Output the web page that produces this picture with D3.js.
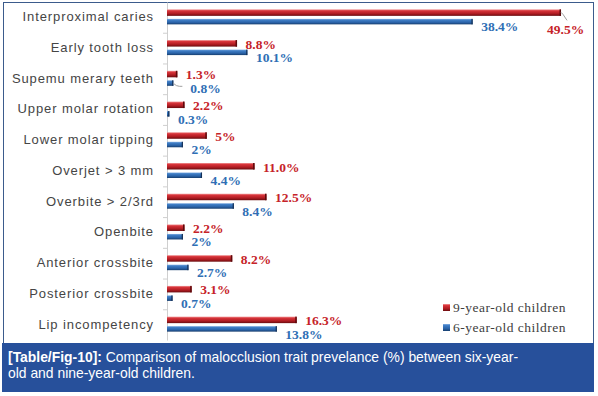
<!DOCTYPE html>
<html>
<head>
<meta charset="utf-8">
<script src="https://cdn.jsdelivr.net/npm/d3@7"></script>
<style>
  body { margin: 0; background: #fff; }
  .cat text { font-family: "Liberation Sans", Arial, sans-serif; font-size: 13px; fill: #454545; letter-spacing: 0.9px; }
  .val { font-family: "Liberation Serif", "Times New Roman", serif; font-size: 13.5px; font-weight: bold; }
  .leg { font-family: "Liberation Serif", "Times New Roman", serif; font-size: 13.5px; fill: #404040; letter-spacing: 0.5px; }
  .cap { font-family: "Liberation Sans", Arial, sans-serif; font-size: 13.9px; fill: #fff; }
</style>
</head>
<body>
<div id="chart"></div>
<script>
//chart size
let svgWidth = 598;
let svgHeight = 396;

//data
let categories = [
  "Interproximal caries", "Early tooth loss", "Supemu merary teeth",
  "Upper molar rotation", "Lower molar tipping", "Overjet > 3 mm",
  "Overbite > 2/3rd", "Openbite", "Anterior crossbite",
  "Posterior crossbite", "Lip incompetency"
];
let nineYear = [49.5, 8.8, 1.3, 2.2, 5, 11.0, 12.5, 2.2, 8.2, 3.1, 16.3];
let sixYear = [38.4, 10.1, 0.8, 0.3, 2, 4.4, 8.4, 2, 2.7, 0.7, 13.8];
let nineLabels = ["49.5%", "8.8%", "1.3%", "2.2%", "5%", "11.0%", "12.5%", "2.2%", "8.2%", "3.1%", "16.3%"];
let sixLabels = ["38.4%", "10.1%", "0.8%", "0.3%", "2%", "4.4%", "8.4%", "2%", "2.7%", "0.7%", "13.8%"];
let seriesNames = ["9-year-old children", "6-year-old children"];

let redText = "#c62329";
let blueText = "#2f6fb5";

let svg = d3.select("#chart").append("svg")
  .attr("width", svgWidth)
  .attr("height", svgHeight);

//gradients to get the shaded bar look
let defs = svg.append("defs");
function addGradient(id, stops) {
  let g = defs.append("linearGradient").attr("id", id)
    .attr("x1", 0).attr("y1", 0).attr("x2", 0).attr("y2", 1);
  stops.forEach(s => g.append("stop").attr("offset", s[0]).attr("stop-color", s[1]));
}
addGradient("redGrad", [["0%", "#f19a9a"], ["22%", "#d8343a"], ["65%", "#b01c22"], ["100%", "#6a0c0f"]]);
addGradient("blueGrad", [["0%", "#86b0e2"], ["22%", "#3f7ec6"], ["65%", "#2a63a8"], ["100%", "#173e6e"]]);

//frame
svg.append("rect")
  .attr("x", 3.5).attr("y", 2.5)
  .attr("width", 590).attr("height", 380)
  .attr("fill", "none")
  .attr("stroke", "#3b5b8c")
  .attr("stroke-width", 1);

//scales
let xScale = d3.scaleLinear().domain([0, 50]).range([167, 565]);
let yScale = d3.scaleBand().domain(categories).range([2, 340]).padding(0);

let chartGroup = svg.append("g");

//left axis with the category names
let yAxis = d3.axisLeft(yScale).tickSize(0).tickPadding(13);
let axisG = chartGroup.append("g")
  .attr("class", "cat")
  .attr("transform", `translate(${xScale(0)},0)`)
  .call(yAxis);
axisG.select(".domain").attr("stroke", "#cfcfcf");
axisG.selectAll("text").attr("dy", "0.3em").attr("x", -13);

//tick marks sit between the categories
chartGroup.selectAll(".sep")
  .data(categories.slice(1))
  .enter()
  .append("line")
  .attr("x1", xScale(0) - 4)
  .attr("x2", xScale(0))
  .attr("y1", d => yScale(d) + 0.5)
  .attr("y2", d => yScale(d) + 0.5)
  .attr("stroke", "#cfcfcf");

let center = c => yScale(c) + yScale.bandwidth() / 2;

//bars
chartGroup.selectAll(".bar9")
  .data(categories)
  .enter()
  .append("rect")
  .attr("x", xScale(0))
  .attr("y", d => center(d) - 8)
  .attr("width", (d, i) => xScale(nineYear[i]) - xScale(0))
  .attr("height", 6.5)
  .attr("fill", "url(#redGrad)");

chartGroup.selectAll(".bar6")
  .data(categories)
  .enter()
  .append("rect")
  .attr("x", xScale(0))
  .attr("y", d => center(d) + 1.5)
  .attr("width", (d, i) => xScale(sixYear[i]) - xScale(0))
  .attr("height", 5.5)
  .attr("fill", "url(#blueGrad)");

//dark end caps
chartGroup.selectAll(".cap9")
  .data(categories)
  .enter()
  .append("rect")
  .attr("x", (d, i) => xScale(nineYear[i]) - 1.5)
  .attr("y", d => center(d) - 8)
  .attr("width", 1.5)
  .attr("height", 6.5)
  .attr("fill", "#5c0a0c");

chartGroup.selectAll(".cap6")
  .data(categories)
  .enter()
  .append("rect")
  .attr("x", (d, i) => xScale(sixYear[i]) - 1.2)
  .attr("y", d => center(d) + 1.5)
  .attr("width", 1.2)
  .attr("height", 5.5)
  .attr("fill", "#142f55");

//value labels, the ones that do not fit get pushed down with a leader line
let tooWide = v => xScale(v) + 8.5 + 40 > 590;

chartGroup.selectAll(".lab9")
  .data(categories)
  .enter()
  .append("text")
  .attr("class", "val")
  .attr("fill", redText)
  .attr("x", (d, i) => tooWide(nineYear[i]) ? xScale(nineYear[i]) - 14 : xScale(nineYear[i]) + 8.5)
  .attr("y", (d, i) => tooWide(nineYear[i]) ? center(d) + 16.6 : center(d) + 0.5)
  .text((d, i) => nineLabels[i]);

chartGroup.selectAll(".lab6")
  .data(categories)
  .enter()
  .append("text")
  .attr("class", "val")
  .attr("fill", blueText)
  .attr("x", (d, i) => xScale(sixYear[i]) + (d.startsWith("Supemu") ? 17 : 8.5))
  .attr("y", d => center(d) + 14)
  .text((d, i) => sixLabels[i]);

//leader lines
let lead9 = categories.filter((d, i) => tooWide(nineYear[i]));
chartGroup.selectAll(".lead9")
  .data(lead9)
  .enter()
  .append("path")
  .attr("d", d => {
    let x0 = xScale(nineYear[categories.indexOf(d)]);
    let y0 = center(d) - 5;
    return `M${x0},${y0} L${x0 + 2},${y0 + 2} L${x0 + 6},${y0 + 8}`;
  })
  .attr("fill", "none")
  .attr("stroke", "#a0a0a0")
  .attr("stroke-width", 1);

let lead6 = categories.filter(d => d.startsWith("Supemu"));
chartGroup.selectAll(".lead6")
  .data(lead6)
  .enter()
  .append("path")
  .attr("d", d => {
    let x0 = xScale(sixYear[categories.indexOf(d)]);
    let y0 = center(d) + 4.5;
    return `M${x0},${y0} Q${x0 + 3},${y0 + 3} ${x0 + 6},${y0 + 3} L${x0 + 9},${y0 + 3}`;
  })
  .attr("fill", "none")
  .attr("stroke", "#a0a0a0")
  .attr("stroke-width", 1);

//legend
let legend = svg.append("g").attr("transform", "translate(443, 304)");
let legendFills = ["url(#redGrad)", "url(#blueGrad)"];
seriesNames.forEach((name, i) => {
  legend.append("rect")
    .attr("x", 0).attr("y", i * 20)
    .attr("width", 7).attr("height", 7)
    .attr("fill", legendFills[i]);
  legend.append("text")
    .attr("class", "leg")
    .attr("x", 10).attr("y", i * 20 + 7.5)
    .text(name);
});

//caption band
svg.append("rect")
  .attr("x", 2).attr("y", 343)
  .attr("width", 592).attr("height", 49)
  .attr("fill", "#27509b");

let cap1 = svg.append("text").attr("class", "cap").attr("x", 8).attr("y", 362);
cap1.append("tspan").attr("font-weight", "bold").text("[Table/Fig-10]:");
cap1.append("tspan").text(" Comparison of malocclusion trait prevelance (%) between six-year-");
svg.append("text").attr("class", "cap").attr("x", 8).attr("y", 378)
  .text("old and nine-year-old children.");
</script>
</body>
</html>
